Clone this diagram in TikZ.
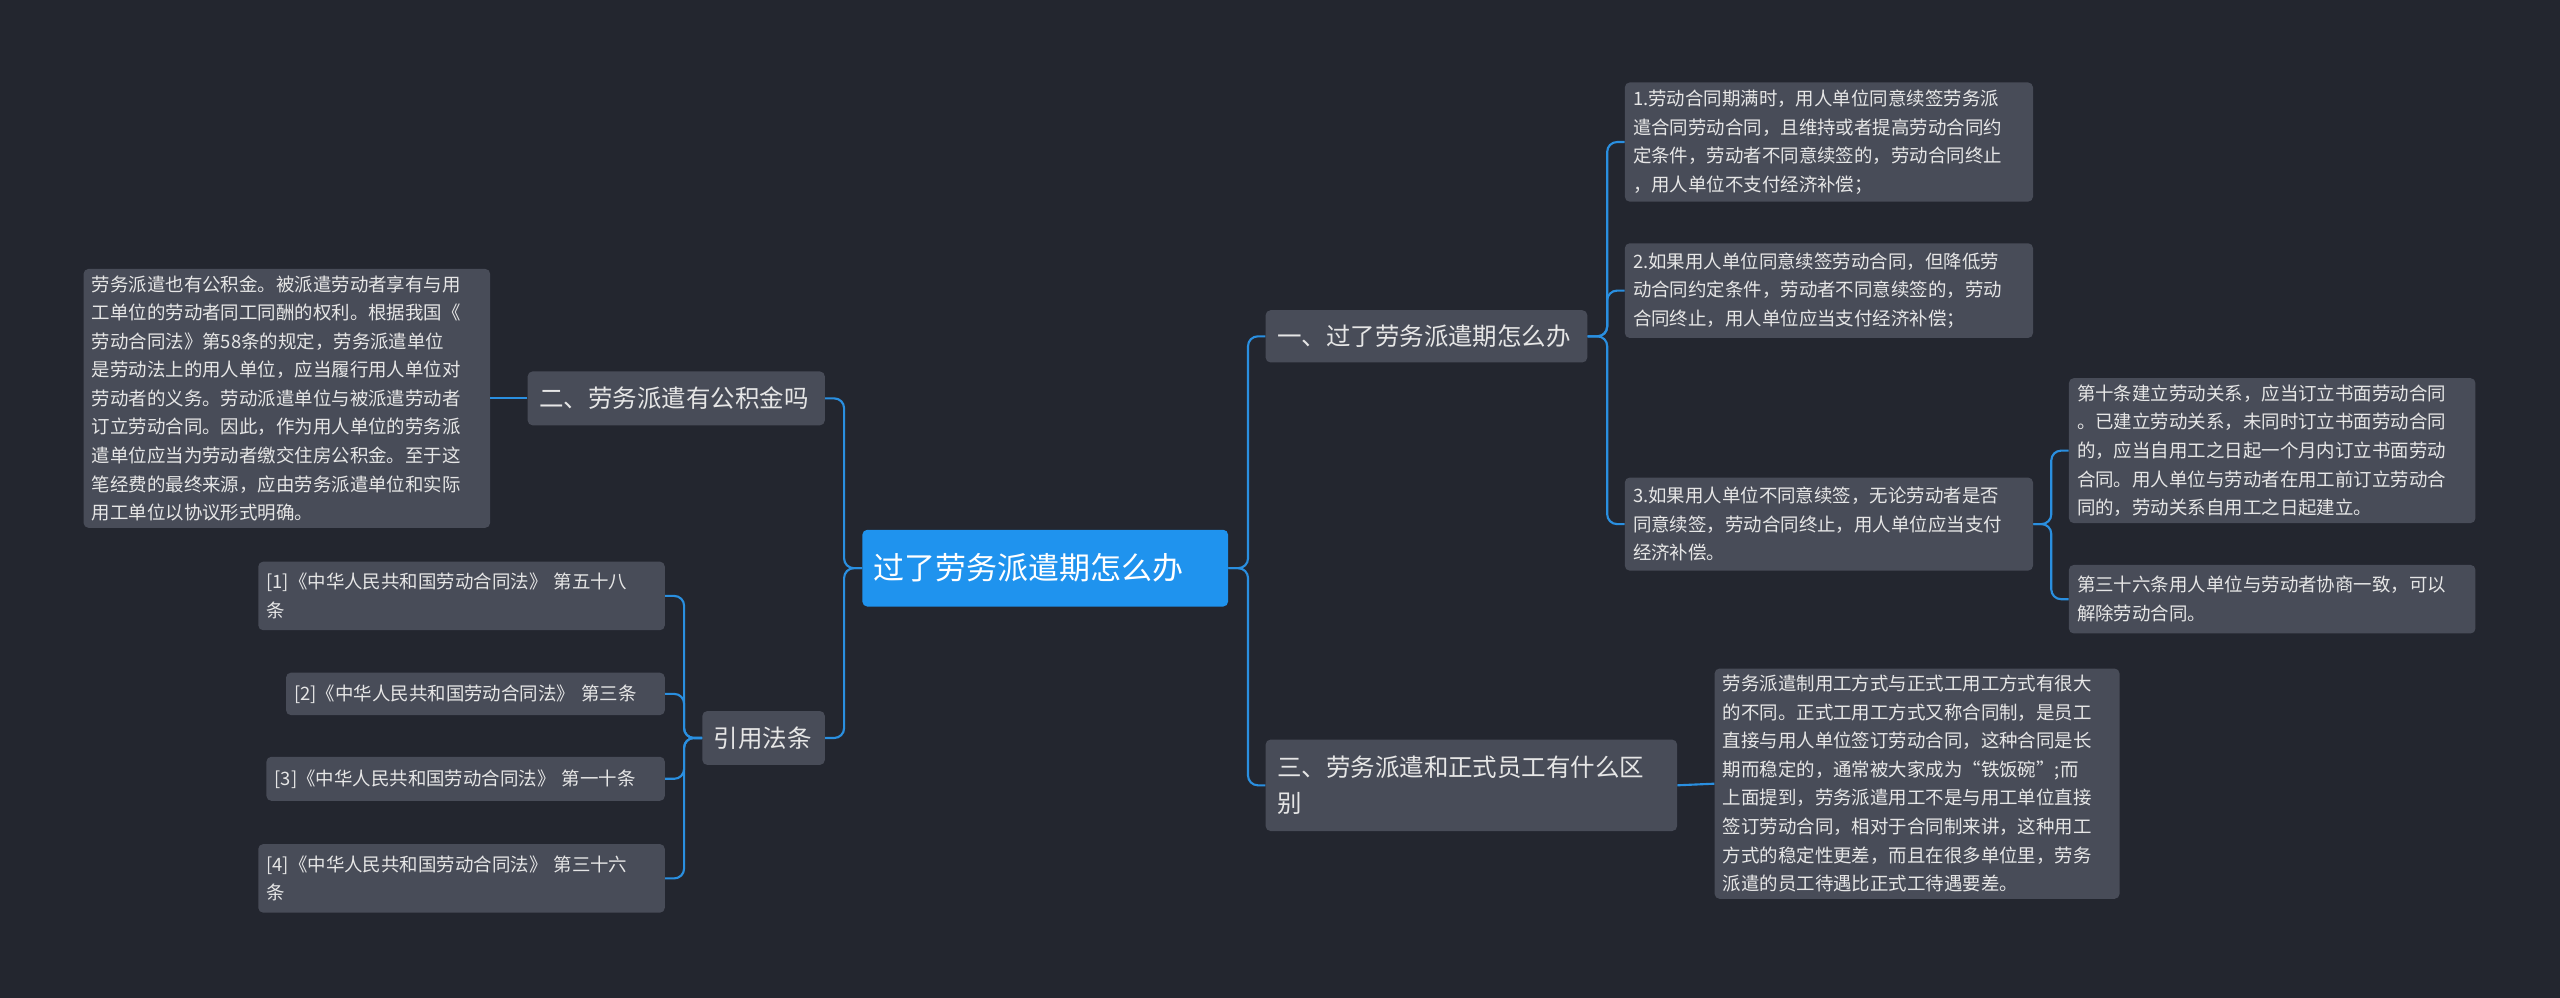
\documentclass[tikz,border=0pt]{standalone}
\usepackage{fontspec}
\setmainfont{Noto Sans CJK SC}
\definecolor{bgc}{HTML}{23262F}
\definecolor{boxc}{HTML}{484C58}
\definecolor{linec}{HTML}{2A8FE0}
\definecolor{rootc}{HTML}{1F93EE}
\definecolor{txtc}{HTML}{E6E6E6}
\tikzset{
  leaf/.style={draw=none,fill=boxc,rounded corners=3pt,inner xsep=5pt,inner ysep=4pt,
    align=left,text=txtc,font=\fontsize{11.3}{17.5}\selectfont,anchor=west},
  branch/.style={leaf,font=\fontsize{15}{22}\selectfont,inner xsep=7pt},
  link/.style={draw=linec,line width=1.3pt,rounded corners=6pt}
}
\begin{document}
\begin{tikzpicture}[x=1pt,y=-1pt]
\fill[bgc] (0,0) rectangle (1568,611);
\useasboundingbox (0,0) rectangle (1568,611);
\node (root) at (528,348) [leaf,fill=rootc,text=white,font=\fontsize{19}{24}\selectfont,minimum height=47pt,text width=210pt,inner xsep=7pt] {过了劳务派遣期怎么办};
\node (b1) at (775,206) [branch,minimum height=32pt,text width=183pt] {一、过了劳务派遣期怎么办};
\node (b2) at (323,244) [branch,minimum height=33pt,text width=168pt] {二、劳务派遣有公积金吗};
\node (b3) at (430,452) [branch,minimum height=33pt,text width=61pt] {引用法条};
\node (b4) at (775,481) [branch,minimum height=56pt,text width=238pt] {三、劳务派遣和正式员工有什么区\\别};
\node (l1) at (995,87) [leaf,minimum height=73pt,text width=240pt] {1.劳动合同期满时，用人单位同意续签劳务派\\遣合同劳动合同，且维持或者提高劳动合同约\\定条件，劳动者不同意续签的，劳动合同终止\\，用人单位不支付经济补偿；};
\node (l2) at (995,178) [leaf,minimum height=58pt,text width=240pt] {2.如果用人单位同意续签劳动合同，但降低劳\\动合同约定条件，劳动者不同意续签的，劳动\\合同终止，用人单位应当支付经济补偿；};
\node (l3) at (995,321) [leaf,minimum height=57pt,text width=240pt] {3.如果用人单位不同意续签，无论劳动者是否\\同意续签，劳动合同终止，用人单位应当支付\\经济补偿。};
\node (c1) at (1267,276) [leaf,minimum height=87pt,text width=239pt] {第十条建立劳动关系，应当订立书面劳动合同\\。已建立劳动关系，未同时订立书面劳动合同\\的，应当自用工之日起一个月内订立书面劳动\\合同。用人单位与劳动者在用工前订立劳动合\\同的，劳动关系自用工之日起建立。};
\node (c2) at (1267,367) [leaf,minimum height=42pt,text width=239pt] {第三十六条用人单位与劳动者协商一致，可以\\解除劳动合同。};
\node (n2) at (51,244) [leaf,minimum height=148pt,text width=239pt] {劳务派遣也有公积金。被派遣劳动者享有与用\\工单位的劳动者同工同酬的权利。根据我国《\\劳动合同法》第58条的规定，劳务派遣单位\\是劳动法上的用人单位，应当履行用人单位对\\劳动者的义务。劳动派遣单位与被派遣劳动者\\订立劳动合同。因此，作为用人单位的劳务派\\遣单位应当为劳动者缴交住房公积金。至于这\\笔经费的最终来源，应由劳务派遣单位和实际\\用工单位以协议形式明确。};
\node (n4) at (1050,480) [leaf,minimum height=133pt,text width=238pt] {劳务派遣制用工方式与正式工用工方式有很大\\的不同。正式工用工方式又称合同制，是员工\\直接与用人单位签订劳动合同，这种合同是长\\期而稳定的，通常被大家成为“铁饭碗”;而\\上面提到，劳务派遣用工不是与用工单位直接\\签订劳动合同，相对于合同制来讲，这种用工\\方式的稳定性更差，而且在很多单位里，劳务\\派遣的员工待遇比正式工待遇要差。};
\node (r1) at (158,365) [leaf,minimum height=42pt,text width=239pt] {[1]《中华人民共和国劳动合同法》 第五十八\\条};
\node (r2) at (175,425) [leaf,minimum height=26pt,text width=222pt] {[2]《中华人民共和国劳动合同法》 第三条};
\node (r3) at (163,477) [leaf,minimum height=27pt,text width=234pt] {[3]《中华人民共和国劳动合同法》 第一十条};
\node (r4) at (158,538) [leaf,minimum height=42pt,text width=239pt] {[4]《中华人民共和国劳动合同法》 第三十六\\条};
% connectors
\foreach \t in {b1,b4} \draw[link] (root.east) -- ++(12,0) |- (\t.west);
\foreach \t in {b2,b3} \draw[link] (root.west) -- ++(-11,0) |- (\t.east);
\foreach \t in {l1,l2,l3} \draw[link] (b1.east) -- ++(12,0) |- (\t.west);
\foreach \t in {c1,c2} \draw[link] (l3.east) -- ++(11,0) |- (\t.west);
\foreach \t in {r1,r2,r3,r4} \draw[link] (b3.west) -- ++(-11,0) |- (\t.east);
\draw[link] (b2.west) -- (n2.east);
\draw[link] (b4.east) -- (n4.west);
\end{tikzpicture}
\end{document}
